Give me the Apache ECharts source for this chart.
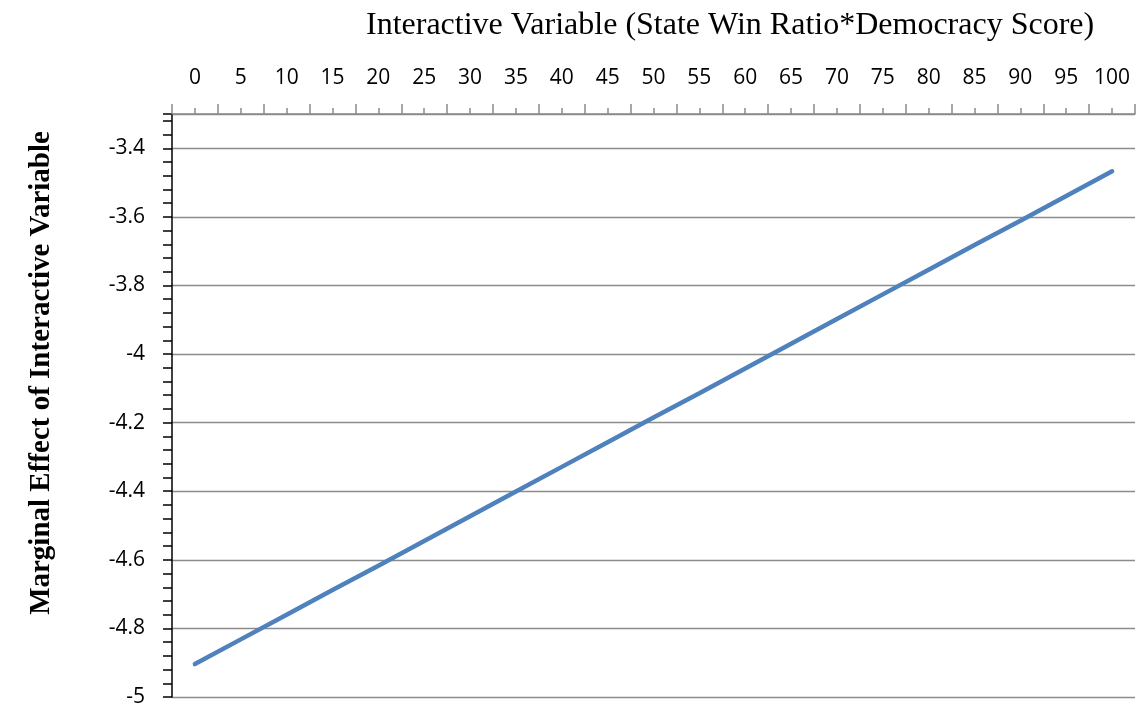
<!DOCTYPE html>
<html>
<head>
<meta charset="utf-8">
<script src="https://cdn.jsdelivr.net/npm/echarts@6/dist/echarts.min.js"></script>
<style>
  html, body { margin: 0; padding: 0; background: #fff; }
  #chart { width: 1140px; height: 708px; }
</style>
</head>
<body>
<div id="chart"></div>
<script>
// x categories (interactive variable) and the marginal effect
const xCats = ["0", "5", "10", "15", "20", "25", "30", "35", "40", "45", "50",
  "55", "60", "65", "70", "75", "80", "85", "90", "95", "100"];
const marginalEffect = [-4.904, -4.832, -4.760, -4.688, -4.617, -4.545, -4.473,
  -4.401, -4.329, -4.257, -4.185, -4.114, -4.042, -3.970, -3.898, -3.826,
  -3.754, -3.682, -3.611, -3.539, -3.467];
const yMin = -5;
const yMax = -3.3;

const chart = echarts.init(document.getElementById("chart"));

const option = {
  animation: false,
  title: {
    text: "Interactive Variable (State Win Ratio*Democracy Score)",
    left: 361,
    top: 5,
    textStyle: {
      fontFamily: "Liberation Serif",
      fontWeight: "normal",
      fontSize: 32,
      color: "#000"
    }
  },
  graphic: [
    {
      type: "text",
      x: 42,
      y: 373,
      rotation: Math.PI / 2,
      style: {
        text: "Marginal Effect of Interactive Variable",
        font: "bold 29px 'Liberation Serif'",
        fill: "#000",
        align: "center",
        verticalAlign: "middle"
      }
    }
  ],
  grid: {
    left: 172,
    right: 5,
    top: 114,
    bottom: 11
  },
  xAxis: [
    {
      // boundary ticks + labels
      type: "category",
      position: "top",
      data: xCats,
      boundaryGap: true,
      axisLine: { show: true, onZero: false, lineStyle: { color: "#8a8a8a", width: 1.5 } },
      axisTick: { show: true, interval: 0, length: 10, lineStyle: { color: "#8a8a8a", width: 1.5 } },
      axisLabel: {
        interval: 0,
        margin: 25,
        fontFamily: "Open Sans",
        fontSize: 21,
        color: "#000"
      },
      splitLine: { show: false }
    },
    {
      // small ticks at category centers
      type: "category",
      position: "top",
      data: xCats,
      boundaryGap: true,
      axisLine: { show: false, onZero: false },
      axisTick: { show: true, interval: 0, alignWithLabel: true, length: 6, lineStyle: { color: "#8a8a8a", width: 1.5 } },
      axisLabel: { show: false },
      splitLine: { show: false }
    }
  ],
  yAxis: [
    {
      type: "value",
      min: yMin,
      max: yMax,
      interval: 0.2,
      axisLine: { show: true, lineStyle: { color: "#000", width: 1.5 } },
      axisTick: { show: false },
      axisLabel: {
        margin: 27,
        showMaxLabel: false,
        fontFamily: "Open Sans",
        fontSize: 21,
        color: "#000",
        formatter: v => String(Math.round(v * 10) / 10)
      },
      splitLine: { show: true, lineStyle: { color: "#8c8c8c", width: 1.3 } }
    },
    {
      // tick marks every 0.04
      type: "value",
      position: "left",
      min: yMin,
      max: yMax,
      interval: 0.04,
      axisLine: { show: false },
      axisTick: { show: true, length: 9, lineStyle: { color: "#000", width: 1.5 } },
      axisLabel: { show: false },
      splitLine: { show: false }
    }
  ],
  series: [
    {
      type: "line",
      data: marginalEffect,
      xAxisIndex: 0,
      yAxisIndex: 0,
      symbol: "none",
      lineStyle: { color: "#4F81BD", width: 4.5, cap: "round" }
    }
  ]
};

chart.setOption(option);
</script>
</body>
</html>
